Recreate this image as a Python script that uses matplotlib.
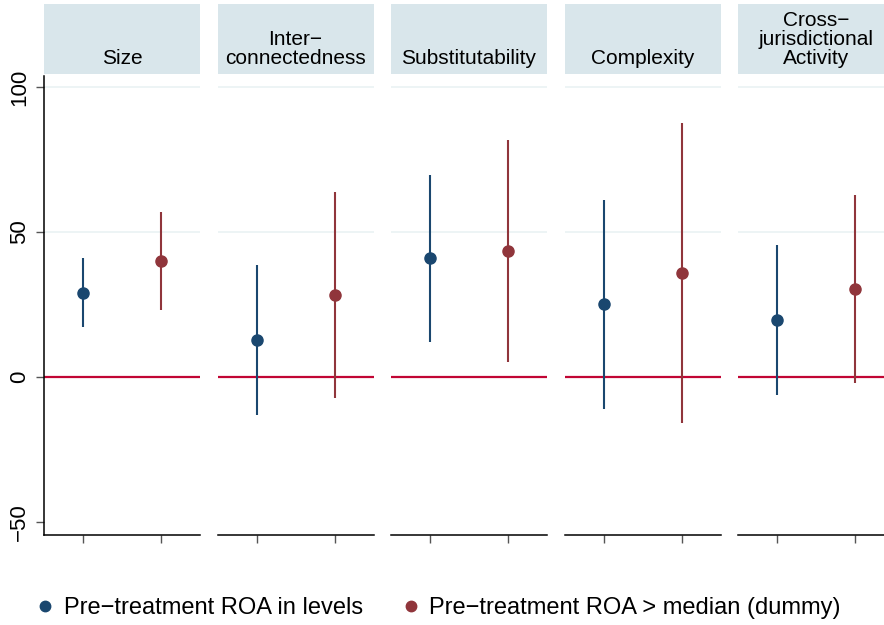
import matplotlib
matplotlib.use("Agg")
import matplotlib.pyplot as plt
from matplotlib.lines import Line2D

plt.rcParams["font.family"] = ["Liberation Sans", "DejaVu Sans"]

# ---------------- DATA ----------------
panels = ["Size", "Inter\u2212\nconnectedness", "Substitutability", "Complexity",
          "Cross\u2212\njurisdictional\nActivity"]

levels_est = [29.0, 12.8, 41.0, 25.2, 19.7]
levels_lo = [17.2, -13.0, 12.0, -11.0, -6.2]
levels_hi = [41.0, 38.6, 69.7, 61.0, 45.5]

dummy_est = [40.0, 28.3, 43.4, 35.9, 30.3]
dummy_lo = [23.0, -7.2, 5.2, -15.9, -2.0]
dummy_hi = [57.0, 63.8, 81.7, 87.6, 62.8]

series_labels = ["Pre\u2212treatment ROA in levels", "Pre\u2212treatment ROA > median (dummy)"]

# ---------------- STYLE ----------------
BLUE = "#1a476f"
RED = "#90353b"
ZERO = "#c10534"
STRIP = "#d9e6eb"
GRID = "#eaf2f3"

W, H = 884, 625
fig = plt.figure(figsize=(W / 100, H / 100), dpi=100)


def px(x0, y0, x1, y1):
    return [x0 / W, 1 - y1 / H, (x1 - x0) / W, (y1 - y0) / H]


# ---------------- PANELS ----------------
for i, name in enumerate(panels):
    left = 44 + i * 173.5
    right = left + 156

    ax = fig.add_axes(px(left, 76, right, 535))
    strip = fig.add_axes(px(left, 4, right, 74))
    strip.set_facecolor(STRIP)
    strip.set_xticks([])
    strip.set_yticks([])
    for s in strip.spines.values():
        s.set_visible(False)
    strip.text(0.5, 0.08, name, ha="center", va="bottom", fontsize=15,
               linespacing=1.0, transform=strip.transAxes)

    for y in (50, 100):
        ax.axhline(y, color=GRID, lw=1.2, zorder=0)
    ax.axhline(0, color=ZERO, lw=1.6, zorder=1)

    ax.vlines(1, levels_lo[i], levels_hi[i], color=BLUE, lw=1.5, zorder=2)
    ax.plot(1, levels_est[i], "o", color=BLUE, ms=8, zorder=3)
    ax.vlines(2, dummy_lo[i], dummy_hi[i], color=RED, lw=1.5, zorder=2)
    ax.plot(2, dummy_est[i], "o", color=RED, ms=8, zorder=3)

    ax.set_xlim(0.5, 2.5)
    ax.set_ylim(-54.5, 103.8)
    ax.set_xticks([1, 2])
    ax.set_xticklabels([])
    ax.tick_params(axis="x", length=6, width=1, color="#555555")

    for side in ("top", "right"):
        ax.spines[side].set_visible(False)
    ax.spines["bottom"].set_linewidth(1.1)

    if i == 0:
        ax.set_yticks([-50, 0, 50, 100])
        ax.set_yticklabels(["\u221250", "0", "50", "100"], rotation=90, va="center",
                           fontsize=16)
        ax.tick_params(axis="y", length=6, width=1, color="#555555", pad=4)
        ax.spines["left"].set_linewidth(1.1)
    else:
        ax.spines["left"].set_visible(False)
        ax.set_yticks([])

# ---------------- LEGEND ----------------
handles = [Line2D([], [], marker="o", ls="", color=BLUE, ms=7.5),
           Line2D([], [], marker="o", ls="", color=RED, ms=7.5)]
fig.legend(handles, series_labels, loc="center", bbox_to_anchor=(0.496, 1 - 608 / H),
           ncol=2, frameon=False, fontsize=17, handletextpad=0.4, columnspacing=1.6,
           handlelength=0.8)

fig.savefig("out.png", dpi=100)
